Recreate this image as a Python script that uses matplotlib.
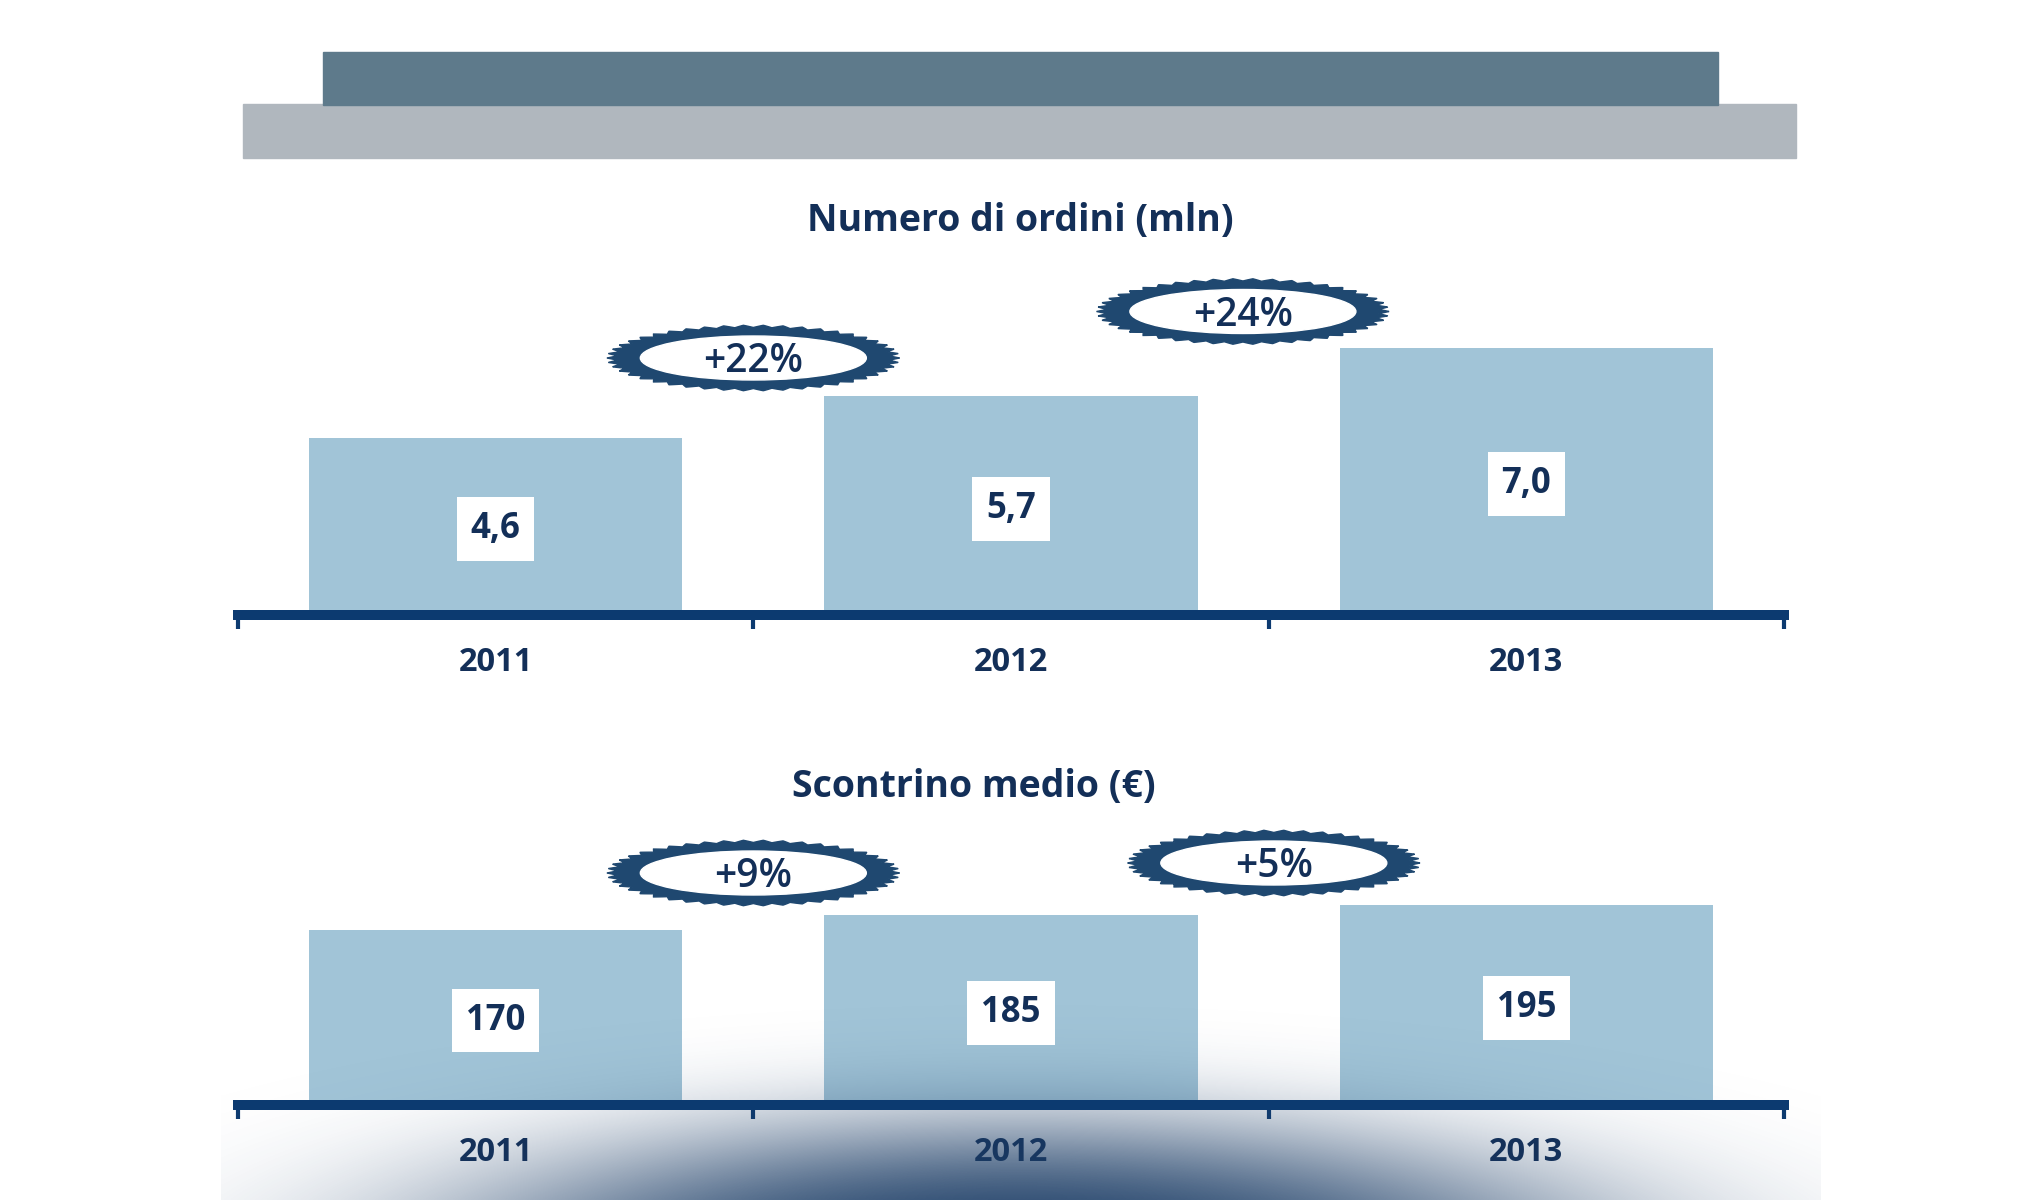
import numpy as np
import matplotlib
matplotlib.use("Agg")
import matplotlib.pyplot as plt
from matplotlib.patches import Rectangle, Polygon, Ellipse
from matplotlib.transforms import ScaledTranslation

plt.rcParams['font.family'] = ['Open Sans', 'DejaVu Sans']

# data
years = ['2011', '2012', '2013']
ordini = [4.6, 5.7, 7.0]
scontrino = [170, 185, 195]
growth_ordini = ['+22%', '+24%']
growth_scontrino = ['+9%', '+5%']

NAVY = '#0c3a70'
TXT = '#132f58'
BAR = '#a1c4d7'
BADGE = '#1f4870'

W, H = 2040, 1200
fig = plt.figure(figsize=(W / 100, H / 100), dpi=100)
fig.patch.set_facecolor('white')

# header bands
fig.patches.append(Rectangle((243 / W, 1 - 158 / H), (1796 - 243) / W, (158 - 104) / H,
                             transform=fig.transFigure, color='#b0b7be', zorder=0))
fig.patches.append(Rectangle((323 / W, 1 - 105 / H), (1718 - 323) / W, (105 - 52) / H,
                             transform=fig.transFigure, color='#5e7a8b', zorder=0))

fig.text(1020 / W, 1 - 221 / H, 'Numero di ordini (mln)', ha='center', va='center',
         fontsize=27, fontweight='bold', color=TXT)
fig.text(974 / W, 1 - 787 / H, 'Scontrino medio (€)', ha='center', va='center',
         fontsize=27, fontweight='bold', color=TXT)


def setup(ax, ymin, ymax):
    ax.set_xlim(-0.5, 2.5)
    ax.set_ylim(ymin, ymax)
    ax.patch.set_alpha(0)
    for s in ['left', 'right', 'top']:
        ax.spines[s].set_visible(False)
    ax.spines['bottom'].set_linewidth(7.2)
    ax.spines['bottom'].set_color(NAVY)
    ax.set_yticks([])
    ax.set_xticks([-0.5, 0.5, 1.5, 2.5])
    ax.set_xticklabels([])
    ax.tick_params(axis='x', which='major', length=10, width=3, color=NAVY, direction='out')
    ax.set_xticks(range(3), years, minor=True)
    ax.tick_params(axis='x', which='minor', length=0, pad=22, labelsize=23.5, labelcolor=TXT)
    for lab in ax.get_xticklabels(minor=True):
        lab.set_fontweight('bold')


def badge(ax, x, y, label):
    t = np.linspace(0, 2 * np.pi, 1500)
    saw = np.abs(((t * 46 / (2 * np.pi)) % 1) - 0.5) * 2
    k = 1 + 0.075 * saw
    pts = np.column_stack([1.36 * k * np.cos(t), 0.305 * k * np.sin(t)])
    tr = fig.dpi_scale_trans + ScaledTranslation(x, y, ax.transData)
    ax.add_patch(Polygon(pts, closed=True, transform=tr, color=BADGE, clip_on=False, zorder=6))
    ax.add_patch(Ellipse((0, 0), 2.26, 0.44, transform=tr, color='white', clip_on=False, zorder=7))
    ax.annotate(label, (x, y), xytext=(0, -3), textcoords='offset points',
                ha='center', va='center', fontsize=28, fontweight='semibold',
                color=TXT, zorder=8, annotation_clip=False)


def value_labels(ax, vals, fmt):
    for i, v in enumerate(vals):
        ax.annotate(fmt(v), (i, v / 2), xytext=(0, -4), textcoords='offset points',
                    ha='center', va='center', fontsize=25, fontweight='bold',
                    color=TXT, zorder=5,
                    bbox=dict(boxstyle='square,pad=0.4', fc='white', ec='none'))


left, width = 238 / W, 1546 / W

# top chart: 37.5 px per unit, baseline at y=610 px
ax1 = fig.add_axes([left, 1 - 615 / H, width, 305 / H])
ax1.bar(range(3), ordini, width=0.725, color=BAR, zorder=2)
setup(ax1, -5 / 37.5, 8)
value_labels(ax1, ordini, lambda v: f"{v:.1f}".replace('.', ','))
badge(ax1, 0.5, 6.72, growth_ordini[0])
badge(ax1, 1.45, 7.96, growth_ordini[1])

# bottom chart: 1 px per unit, baseline at y=1100 px
ax2 = fig.add_axes([left, 1 - 1105 / H, width, 255 / H])
ax2.bar(range(3), scontrino, width=0.725, color=BAR, zorder=2)
setup(ax2, -5, 250)
value_labels(ax2, scontrino, lambda v: f"{v:d}")
badge(ax2, 0.5, 227, growth_scontrino[0])
badge(ax2, 1.51, 237, growth_scontrino[1])

# dark glow at the bottom
gx0, gx1, gy0, gy1 = 221, 1821, 950, 1200
xs = np.linspace(gx0, gx1, 400)
ys = np.linspace(gy0, gy1, 120)
X, Y = np.meshgrid(xs, ys)
r = np.sqrt(((X - 1020) / 1200) ** 2 + ((Y - 1270) / 300) ** 2)
alpha = np.exp(-(r / 0.5) ** 3) * 0.97
rgba = np.zeros(X.shape + (4,))
rgba[..., 0], rgba[..., 1], rgba[..., 2] = 0x1c / 255, 0x3d / 255, 0x66 / 255
rgba[..., 3] = alpha
ax2.imshow(rgba, extent=[gx0 / W, gx1 / W, 1 - gy1 / H, 1 - gy0 / H], origin='upper',
           transform=fig.transFigure, clip_on=False, zorder=2.2, aspect='auto',
           interpolation='bilinear')
ax2.set_xlim(-0.5, 2.5)
ax2.set_ylim(-5, 250)

fig.savefig('out.png', dpi=100, facecolor='white')
